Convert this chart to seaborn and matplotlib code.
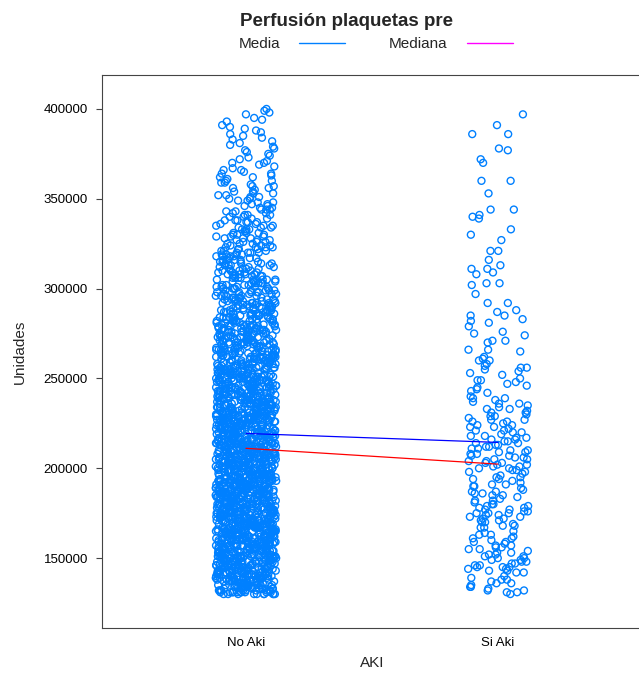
import numpy as np
import pandas as pd
import seaborn as sns
import matplotlib.pyplot as plt
from matplotlib.lines import Line2D

# Perfusion plaquetas pre (en miles de unidades)
no_aki_k = [
    131,136,133,139,130,134,138,132,137,135,130,133,136,139,131,134,137,132,135,138,
    133,130,138,135,131,137,134,139,132,136,130,132,134,136,138,131,133,135,137,139,
    134,131,137,130,139,133,136,132,138,135,131,134,130,137,133,139,132,136,135,138,
    130,135,132,138,134,131,137,133,139,136,132,130,134,136,138,131,133,135,137,139,
    135,131,138,133,130,136,134,139,132,137,130,133,135,138,131,
    143,140,148,145,141,147,144,149,142,146,140,142,144,146,148,141,143,145,147,149,
    144,141,147,140,149,143,146,142,148,145,141,144,140,147,143,149,142,146,145,148,
    140,145,142,148,144,141,147,143,149,146,142,140,144,146,148,141,143,145,147,149,
    145,141,148,143,140,146,144,149,142,147,140,143,145,148,141,144,146,149,142,147,
    141,146,143,149,140,144,148,142,147,145,140,143,146,149,141,144,147,142,145,148,
    143,140,146,148,141,
    154,151,157,150,159,153,156,152,158,155,151,154,150,157,153,159,152,156,155,158,
    150,155,152,158,154,151,157,153,159,156,152,150,154,156,158,151,153,155,157,159,
    155,151,158,153,150,156,154,159,152,157,150,153,155,158,151,154,156,159,152,157,
    151,156,153,159,150,154,158,152,157,155,150,153,156,159,151,154,157,152,155,158,
    153,150,158,155,151,157,154,159,152,156,150,152,154,156,158,151,153,155,157,159,
    154,151,157,150,159,153,156,152,158,155,151,154,150,157,153,
    160,165,162,168,164,161,167,163,169,166,162,160,164,166,168,161,163,165,167,169,
    165,161,168,163,160,166,164,169,162,167,160,163,165,168,161,164,166,169,162,167,
    161,166,163,169,160,164,168,162,167,165,160,163,166,169,161,164,167,162,165,168,
    163,160,168,165,161,167,164,169,162,166,160,162,164,166,168,161,163,165,167,169,
    164,161,167,160,169,163,166,162,168,165,161,164,160,167,163,169,162,166,165,168,
    160,165,162,168,164,161,167,163,169,166,162,160,164,166,168,161,163,165,167,169,
    175,171,178,173,170,176,174,179,172,177,170,173,175,178,171,174,176,179,172,177,
    171,176,173,179,170,174,178,172,177,175,170,173,176,179,171,174,177,172,175,178,
    173,170,178,175,171,177,174,179,172,176,170,172,174,176,178,171,173,175,177,179,
    174,171,177,170,179,173,176,172,178,175,171,174,170,177,173,179,172,176,175,178,
    170,175,172,178,174,171,177,173,179,176,172,170,174,176,178,171,173,175,177,179,
    175,171,178,173,170,176,174,179,172,177,170,173,175,178,171,174,176,179,172,177,
    181,186,183,189,180,184,188,182,187,185,180,183,186,189,181,184,187,182,185,188,
    183,180,188,185,181,187,184,189,182,186,180,182,184,186,188,181,183,185,187,189,
    184,181,187,180,189,183,186,182,188,185,181,184,180,187,183,189,182,186,185,188,
    180,185,182,188,184,181,187,183,189,186,182,180,184,186,188,181,183,185,187,189,
    185,181,188,183,180,186,184,189,182,187,180,183,185,188,181,184,186,189,182,187,
    181,186,183,189,180,184,188,182,187,185,180,183,186,189,181,184,187,182,185,188,
    193,190,198,195,191,197,194,199,192,196,190,192,194,196,198,191,193,195,197,199,
    194,191,197,190,199,193,196,192,198,195,191,194,190,197,193,199,192,196,195,198,
    190,195,192,198,194,191,197,193,199,196,192,190,194,196,198,191,193,195,197,199,
    195,191,198,193,190,196,194,199,192,197,190,193,195,198,191,194,196,199,192,197,
    191,196,193,199,190,194,198,192,197,195,190,193,196,199,191,194,197,192,195,198,
    193,190,198,195,191,197,194,199,192,196,190,192,194,196,198,191,193,195,197,199,
    204,201,207,200,209,203,206,202,208,205,201,204,200,207,203,209,202,206,205,208,
    200,205,202,208,204,201,207,203,209,206,202,200,204,206,208,201,203,205,207,209,
    205,201,208,203,200,206,204,209,202,207,200,203,205,208,201,204,206,209,202,207,
    201,206,203,209,200,204,208,202,207,205,200,203,206,209,201,204,207,202,205,208,
    203,200,208,205,201,207,204,209,202,206,200,202,204,206,208,201,203,205,207,209,
    204,201,207,200,209,203,206,202,208,205,201,204,200,207,203,209,202,206,205,208,
    210,215,212,218,214,211,217,213,219,216,212,210,214,216,218,211,213,215,217,219,
    215,211,218,213,210,216,214,219,212,217,210,213,215,218,211,214,216,219,212,217,
    211,216,213,219,210,214,218,212,217,215,210,213,216,219,211,214,217,212,215,218,
    213,210,218,215,211,217,214,219,212,216,210,212,214,216,218,211,213,215,217,219,
    214,211,217,210,219,213,216,212,218,215,211,214,210,217,213,219,212,216,215,218,
    210,215,212,218,214,211,217,213,219,216,212,210,214,216,218,
    225,221,228,223,220,226,224,229,222,227,220,223,225,228,221,224,226,229,222,227,
    221,226,223,229,220,224,228,222,227,225,220,223,226,229,221,224,227,222,225,228,
    223,220,228,225,221,227,224,229,222,226,220,222,224,226,228,221,223,225,227,229,
    224,221,227,220,229,223,226,222,228,225,221,224,220,227,223,229,222,226,225,228,
    220,225,222,228,224,221,227,223,229,226,222,220,224,226,228,221,223,225,227,229,
    225,221,228,223,220,226,224,229,222,227,
    231,236,233,239,230,234,238,232,237,235,230,233,236,239,231,234,237,232,235,238,
    233,230,238,235,231,237,234,239,232,236,230,232,234,236,238,231,233,235,237,239,
    234,231,237,230,239,233,236,232,238,235,231,234,230,237,233,239,232,236,235,238,
    230,235,232,238,234,231,237,233,239,236,232,230,234,236,238,231,233,235,237,239,
    235,231,238,233,230,236,234,239,232,237,230,233,235,238,231,234,236,239,232,237,
    231,236,
    243,240,248,245,241,247,244,249,242,246,240,242,244,246,248,241,243,245,247,249,
    244,241,247,240,249,243,246,242,248,245,241,244,240,247,243,249,242,246,245,248,
    240,245,242,248,244,241,247,243,249,246,242,240,244,246,248,241,243,245,247,249,
    245,241,248,243,240,246,244,249,242,247,240,243,245,248,241,244,246,249,242,247,
    241,246,243,249,240,244,248,242,247,245,240,243,246,249,
    254,251,257,250,259,253,256,252,258,255,251,254,250,257,253,259,252,256,255,258,
    250,255,252,258,254,251,257,253,259,256,252,250,254,256,258,251,253,255,257,259,
    255,251,258,253,250,256,254,259,252,257,250,253,255,258,251,254,256,259,252,257,
    251,256,253,259,250,254,258,252,257,255,250,253,256,259,251,254,257,252,255,258,
    253,250,258,255,251,
    260,265,262,268,264,261,267,263,269,266,262,260,264,266,268,261,263,265,267,269,
    265,261,268,263,260,266,264,269,262,267,260,263,265,268,261,264,266,269,262,267,
    261,266,263,269,260,264,268,262,267,265,260,263,266,269,261,264,267,262,265,268,
    263,260,268,265,261,267,264,269,262,266,260,262,264,266,268,261,
    275,271,278,273,270,276,274,279,272,277,270,273,275,278,271,274,276,279,272,277,
    271,276,273,279,270,274,278,272,277,275,270,273,276,279,271,274,277,272,275,278,
    273,270,278,275,271,277,274,279,272,276,270,272,274,276,278,271,273,275,277,279,
    274,271,277,270,279,273,276,272,
    281,286,283,289,280,284,288,282,287,285,280,283,286,289,281,284,287,282,285,288,
    283,280,288,285,281,287,284,289,282,286,280,282,284,286,288,281,283,285,287,289,
    284,281,287,280,289,283,286,282,288,285,281,284,280,287,283,289,282,286,285,288,
    293,290,298,295,291,297,294,299,292,296,290,292,294,296,298,291,293,295,297,299,
    294,291,297,290,299,293,296,292,298,295,291,294,290,297,293,299,292,296,295,298,
    290,295,292,298,294,291,297,293,299,296,292,290,
    304,301,307,300,309,303,306,302,308,305,301,304,300,307,303,309,302,306,305,308,
    300,305,302,308,304,301,307,303,309,306,302,300,304,306,308,301,303,305,307,309,
    305,301,308,303,300,
    310,315,312,318,314,311,317,313,319,316,312,310,314,316,318,311,313,315,317,319,
    315,311,318,313,310,316,314,319,312,317,310,313,315,318,311,314,316,319,
    325,321,328,323,320,326,324,329,322,327,320,323,325,328,321,324,326,329,322,327,
    321,326,323,329,320,324,328,322,327,325,320,323,
    331,336,333,339,330,334,338,332,337,335,330,333,336,339,331,334,337,332,335,338,
    333,330,338,335,331,337,334,
    343,340,348,345,341,347,344,349,342,346,340,342,344,346,348,341,343,345,347,349,
    344,341,
    354,351,357,350,359,353,356,352,358,355,351,354,350,357,353,359,352,356,
    360,365,362,368,364,361,367,363,369,366,362,360,364,366,
    375,371,378,373,370,376,374,379,372,377,370,
    381,386,383,389,380,384,388,382,387,385,
    393,390,398,395,391,397,394,399,400,
]

si_aki_k = [
    397, 391, 386, 386, 377, 378, 372, 370, 360, 360, 353,
    344, 344, 341, 340, 339, 333, 330, 327, 321, 321, 316, 313, 311, 311, 309, 308, 303, 303, 302, 297,
    292, 292, 288, 287, 285, 285, 283, 282, 281, 279, 276, 275, 274, 271, 271, 270, 266, 266, 265, 262,
    261, 260, 260, 258, 257, 256, 256, 255, 254, 253, 252, 250, 249, 249, 248, 247, 246, 245, 244, 243,
    242, 240, 239, 239,
    238, 236, 237, 233, 235, 231, 234, 229, 232, 236, 230, 227, 233, 228, 226, 231, 225, 229, 224, 227,
    223, 226, 221, 224, 220, 222, 219, 223, 217, 221, 218, 216, 220, 215, 218, 214, 217, 213, 216, 212,
    215, 211, 214, 210, 213, 209, 212, 208, 211, 207, 210, 206, 209, 205, 208, 204, 207, 203, 206, 202,
    205, 201, 204, 203, 200, 202, 199, 201, 198, 200, 197, 199, 195, 198, 194, 196, 193, 195, 191, 194,
    190, 192, 189, 191, 187, 190, 186, 188, 185, 187, 184, 186, 183, 185, 182,
    182, 180, 181, 179, 180, 178, 179, 177, 178, 176, 177, 175, 176, 174, 175, 173, 175, 172, 174, 171,
    173, 170, 172, 169, 171, 168, 170, 167, 168, 167,
    165, 163, 164, 162, 163, 161, 160, 161, 159, 158, 159, 157, 156, 157, 155, 156, 154, 155,
    153, 152, 153, 151, 152, 150, 151, 149, 150, 148, 149, 147, 148, 146, 147, 145, 146, 144, 145, 143,
    144, 142, 143, 142, 145,
    140, 139, 138, 138, 137, 136, 136, 135, 134, 134, 133, 132, 132, 131, 131, 130,
]

grupos = ["No Aki", "Si Aki"]
media = [219400, 214400]
mediana = [211100, 202300]
y_ticks = [150000, 200000, 250000, 300000, 350000, 400000]

df = pd.DataFrame({
    "AKI": ["No Aki"] * len(no_aki_k) + ["Si Aki"] * len(si_aki_k),
    "Unidades": np.array(no_aki_k + si_aki_k) * 1000,
})

sns.set_style("white")
plt.rcParams["font.family"] = ["Liberation Sans", "DejaVu Sans"]

fig = plt.figure(figsize=(6.39, 6.75), dpi=100)
# the panel runs a little past the right edge, like the original
ax = fig.add_axes([102 / 639, 47 / 675, 540 / 639, 553 / 675])

np.random.seed(7)
sns.stripplot(data=df, x="AKI", y="Unidades", order=grupos, jitter=0.12,
              size=5.0, color="#0080ff", linewidth=0, ax=ax)
for coll in ax.collections:
    coll.set_facecolor("none")
    coll.set_edgecolor("#0080ff")
    coll.set_linewidth(1.0)

# lineas de media y mediana entre grupos
ax.plot([0, 1], media, color="#0000ff", lw=0.9, zorder=4)
ax.plot([0, 1], mediana, color="#ff0000", lw=0.9, zorder=4)

ax.set_xlim(-0.571, 1.571)
ax.set_ylim(111100, 418900)
ax.set_yticks(y_ticks)
ax.set_yticklabels([str(v) for v in y_ticks])
ax.tick_params(axis="y", left=True, direction="out", length=4.3, width=0.8,
               color="#444444", pad=5.8, labelsize=9.5, labelcolor="black")
ax.tick_params(axis="x", bottom=False, length=0, pad=6.5, labelsize=9.5,
               labelcolor="black")
for s in ax.spines.values():
    s.set_color("#444444")
    s.set_linewidth(0.8)

ax.set_xlabel("AKI", fontsize=11)
ax.xaxis.set_label_coords(0.5, (628 - 663) / 553)
ax.xaxis.label.set_va("center")
ax.set_ylabel("Unidades", fontsize=11)
ax.yaxis.set_label_coords((20 - 102) / 540, 0.5)
ax.yaxis.label.set_va("center")

fig.text(347 / 639, 1 - 21.7 / 675, "Perfusión plaquetas pre", ha="center",
         va="center", fontsize=13.5, fontweight="bold")

handles = [Line2D([], [], color="#0080ff", lw=1.0),
           Line2D([], [], color="#ff00ff", lw=1.0)]
fig.legend(handles, ["Media", "Mediana"], loc="center",
           bbox_to_anchor=(375.5 / 639, 1 - 44.3 / 675), ncol=2, frameon=False,
           markerfirst=False, fontsize=11, handlelength=3.0, handletextpad=1.25,
           columnspacing=2.9)

fig.savefig("out.png", dpi=100)
